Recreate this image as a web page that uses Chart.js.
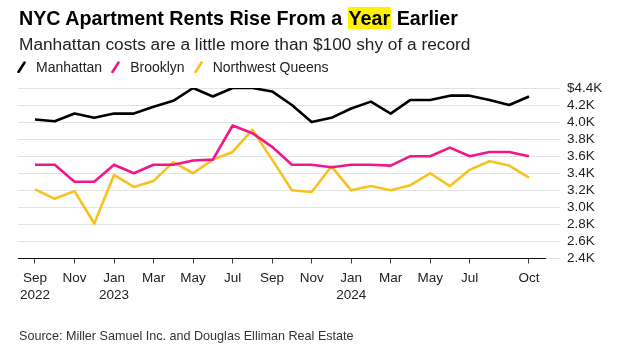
<!DOCTYPE html>
<html>
<head>
<meta charset="utf-8">
<script src="https://cdn.jsdelivr.net/npm/chart.js@4"></script>
<style>
  body { margin: 0; background: #fff; font-family: "Liberation Sans", Arial, sans-serif; }
  #wrap { position: relative; width: 620px; height: 347px; overflow: hidden; }
  #wrap canvas { position: absolute; left: 0; top: 0; }
  .txt { position: absolute; left: 19px; white-space: nowrap; }
  #title { top: 5px; font-size: 19.7px; font-weight: bold; color: #000; line-height: 26px; }
  #title span { background: #fff200; padding: 0 1px; }
  #sub { top: 33px; font-size: 17.3px; color: #222; line-height: 22px; }
  #legend { top: 58px; font-size: 14px; color: #222; line-height: 18px; left: 17px; }
  #legend .item { display: inline-block; margin-right: 9px; }
  #legend svg { vertical-align: -1px; margin-right: 10px; }
  #source { top: 329px; font-size: 12.6px; color: #333; line-height: 15px; }
</style>
</head>
<body>
<div id="wrap">
  <canvas id="rentChart" width="620" height="347"></canvas>
  <div class="txt" id="title">NYC Apartment Rents Rise From a <span>Year</span> Earlier</div>
  <div class="txt" id="sub">Manhattan costs are a little more than $100 shy of a record</div>
  <div class="txt" id="legend"></div>
  <div class="txt" id="source">Source: Miller Samuel Inc. and Douglas Elliman Real Estate</div>
</div>
<script>
// monthly, Sep 2022 .. Oct 2024 (thousands of dollars)
const months = ['2022-09','2022-10','2022-11','2022-12','2023-01','2023-02','2023-03','2023-04',
  '2023-05','2023-06','2023-07','2023-08','2023-09','2023-10','2023-11','2023-12','2024-01',
  '2024-02','2024-03','2024-04','2024-05','2024-06','2024-07','2024-08','2024-09','2024-10'];
const manhattan = [4.03, 4.01, 4.10, 4.05, 4.10, 4.10, 4.18, 4.25, 4.40, 4.30, 4.40, 4.40, 4.36,
  4.20, 4.00, 4.05, 4.16, 4.24, 4.10, 4.26, 4.26, 4.31, 4.31, 4.26, 4.20, 4.30];
const brooklyn = [3.50, 3.50, 3.30, 3.30, 3.50, 3.40, 3.50, 3.50, 3.55, 3.56, 3.96, 3.87, 3.71,
  3.50, 3.50, 3.47, 3.50, 3.50, 3.49, 3.60, 3.60, 3.70, 3.60, 3.65, 3.65, 3.60];
const queens = [3.21, 3.10, 3.19, 2.81, 3.38, 3.24, 3.31, 3.53, 3.40, 3.56, 3.65, 3.91, 3.56,
  3.20, 3.18, 3.48, 3.20, 3.25, 3.20, 3.26, 3.40, 3.25, 3.44, 3.54, 3.49, 3.35];

const tickMonths = ['2022-09','2022-11','2023-01','2023-03','2023-05','2023-07','2023-09',
  '2023-11','2024-01','2024-03','2024-05','2024-07','2024-10'];
const tickLabels = [['Sep','2022'],'Nov',['Jan','2023'],'Mar','May','Jul','Sep','Nov',
  ['Jan','2024'],'Mar','May','Jul','Oct'];
const yTicks = [2.4, 2.6, 2.8, 3.0, 3.2, 3.4, 3.6, 3.8, 4.0, 4.2, 4.4];

const seriesNames = ['Manhattan', 'Brooklyn', 'Northwest Queens'];
const seriesColors = ['#000000', '#f2168b', '#f7c21b'];

const legend = document.getElementById('legend');
seriesNames.forEach(function(name, i) {
  legend.innerHTML += '<span class="item"><svg width="9" height="12"><line x1="1.5" y1="11" x2="7.5" y2="1.5" stroke="' +
    seriesColors[i] + '" stroke-width="2.6" stroke-linecap="round"/></svg>' + name + '</span>';
});

function toPoints(values) {
  return values.map(function(v, i) { return { x: i, y: v }; });
}

const tickIndex = tickMonths.map(function(m) { return months.indexOf(m); });

const ctx = document.getElementById('rentChart').getContext('2d');
const rentChart = new Chart(ctx, {
  type: 'line',
  data: {
    datasets: [manhattan, brooklyn, queens].map(function(vals, i) {
      return {
        label: seriesNames[i],
        data: toPoints(vals),
        borderColor: seriesColors[i],
        borderWidth: 2.6,
        pointRadius: 0,
        tension: 0,
        borderJoinStyle: 'round'
      };
    })
  },
  options: {
    responsive: false,
    animation: false,
    layout: { padding: { left: 18, top: 88, right: 0, bottom: 0 } },
    plugins: { legend: { display: false }, tooltip: { enabled: false } },
    scales: {
      x: {
        type: 'linear',
        min: -0.86,
        max: 25.81,
        afterBuildTicks: function(scale) {
          scale.ticks = tickIndex.map(function(v) { return { value: v }; });
        },
        afterFit: function(scale) { scale.height = 88.5; },
        border: { display: true, color: '#111', width: 1 },
        grid: { drawOnChartArea: false, drawTicks: true, tickLength: 5, color: '#444' },
        ticks: {
          autoSkip: false,
          maxRotation: 0,
          padding: 6,
          color: '#222',
          font: { family: 'Liberation Sans', size: 13.5, lineHeight: 1.25 },
          callback: function(v) { return tickLabels[tickIndex.indexOf(v)]; }
        }
      },
      y: {
        position: 'right',
        min: 2.4,
        max: 4.4,
        afterBuildTicks: function(scale) {
          scale.ticks = yTicks.map(function(v) { return { value: v }; });
        },
        afterFit: function(scale) { scale.width = 75; },
        border: { display: false },
        grid: { color: '#e3e3e3', lineWidth: 1, tickLength: 15 },
        ticks: {
          autoSkip: false,
          padding: 7,
          color: '#222',
          font: { family: 'Liberation Sans', size: 13.5 },
          callback: function(v) { return (v === 4.4 ? '$' : '') + v.toFixed(1) + 'K'; }
        }
      }
    }
  }
});
</script>
</body>
</html>
